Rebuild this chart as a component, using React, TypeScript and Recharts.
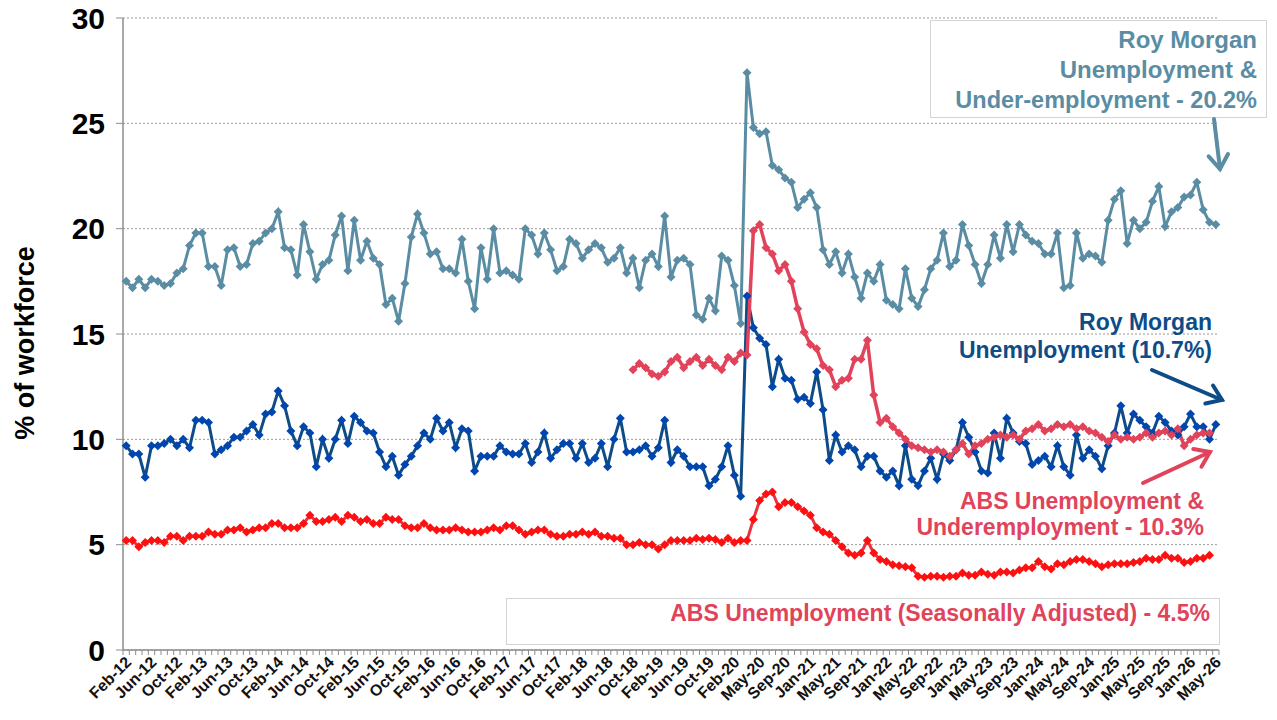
import React from 'react';
import { LineChart, Line, XAxis, YAxis, CartesianGrid } from 'recharts';

const MONTHS = ['Jan', 'Feb', 'Mar', 'Apr', 'May', 'Jun', 'Jul', 'Aug', 'Sep', 'Oct', 'Nov', 'Dec'];
const fmt = (y: number, m: number) => `${MONTHS[m]}-${String(y % 100).padStart(2, '0')}`;

// Category labels: monthly Feb-12..Feb-20, three COVID-period surveys, then monthly May-20..May-26
const categories: string[] = [];
for (let i = 0; i <= 96; i++) categories.push(fmt(2012 + Math.floor((1 + i) / 12), (1 + i) % 12));
categories.push('Mar-20', 'Mar-20 (28/29)', 'Apr-20');
for (let i = 0; i <= 72; i++) categories.push(fmt(2020 + Math.floor((4 + i) / 12), (4 + i) % 12));

const yTicks = [0, 5, 10, 15, 20, 25, 30];

const rmUnderUtil: number[] = [
  17.5, 17.2, 17.6, 17.2, 17.6, 17.5, 17.3, 17.4, 17.9, 18.1,
  19.2, 19.8, 19.8, 18.2, 18.2, 17.3, 19.0, 19.1, 18.2, 18.3,
  19.3, 19.4, 19.8, 20.0, 20.8, 19.1, 19.0, 17.8, 20.2, 18.9,
  17.6, 18.3, 18.5, 19.7, 20.6, 18.0, 20.4, 18.5, 19.4, 18.6,
  18.3, 16.4, 16.7, 15.6, 17.4, 19.6, 20.7, 19.8, 18.8, 18.9,
  18.1, 18.1, 17.9, 19.5, 17.5, 16.2, 19.1, 17.6, 20.0, 17.9,
  18.0, 17.8, 17.6, 20.0, 19.7, 18.8, 19.8, 19.0, 18.0, 18.2,
  19.5, 19.3, 18.6, 19.0, 19.3, 19.1, 18.4, 18.6, 19.1, 17.9,
  18.6, 17.2, 18.5, 18.8, 18.2, 20.6, 17.7, 18.5, 18.6, 18.3,
  15.9, 15.7, 16.7, 16.1, 18.7, 18.5, 17.3, 15.5, 27.4, 24.8,
  24.5, 24.6, 23.0, 22.8, 22.4, 22.2, 21.0, 21.4, 21.7, 21.0,
  19.0, 18.3, 18.9, 17.9, 18.8, 17.7, 16.7, 17.9, 17.5, 18.3,
  16.6, 16.4, 16.2, 18.1, 16.7, 16.3, 17.1, 18.1, 18.5, 19.8,
  18.2, 18.5, 20.2, 19.2, 18.3, 17.4, 18.3, 19.7, 18.6, 20.2,
  18.9, 20.2, 19.7, 19.4, 19.3, 18.8, 18.8, 19.8, 17.2, 17.3,
  19.8, 18.6, 18.8, 18.7, 18.4, 20.4, 21.4, 21.8, 19.3, 20.4,
  20.0, 20.3, 21.3, 22.0, 20.1, 20.8, 21.0, 21.5, 21.6, 22.2,
  20.9, 20.3, 20.2,
];

const rmUnemp: number[] = [
  9.7, 9.3, 9.3, 8.2, 9.7, 9.7, 9.8, 10.0, 9.7, 10.0,
  9.6, 10.9, 10.9, 10.8, 9.3, 9.5, 9.7, 10.1, 10.1, 10.4,
  10.7, 10.2, 11.2, 11.3, 12.3, 11.6, 10.4, 9.7, 10.6, 10.3,
  8.7, 10.0, 9.1, 10.0, 10.9, 9.8, 11.1, 10.8, 10.4, 10.3,
  9.4, 8.7, 9.2, 8.3, 8.8, 9.2, 9.7, 10.3, 10.0, 11.0,
  10.4, 10.8, 9.6, 10.5, 10.4, 8.5, 9.2, 9.2, 9.2, 9.7,
  9.4, 9.3, 9.3, 9.8, 8.9, 9.4, 10.3, 9.1, 9.5, 9.8,
  9.8, 9.1, 9.8, 8.9, 9.1, 9.8, 8.7, 10.0, 11.0, 9.4,
  9.4, 9.5, 9.7, 9.2, 9.6, 10.9, 8.9, 9.5, 9.2, 8.7,
  8.7, 8.7, 7.8, 8.1, 8.7, 9.7, 8.3, 7.3, 16.8, 15.3,
  14.8, 14.5, 12.5, 13.8, 12.9, 12.8, 11.9, 12.0, 11.7, 13.2,
  11.4, 9.0, 10.2, 9.4, 9.7, 9.5, 8.7, 9.2, 9.2, 8.5,
  8.2, 8.5, 7.8, 9.7, 8.1, 7.8, 8.5, 9.1, 8.1, 9.3,
  9.0, 9.5, 10.8, 10.1, 9.4, 8.5, 8.4, 10.3, 9.1, 11.0,
  10.3, 9.9, 9.8, 8.8, 9.0, 9.2, 8.7, 9.7, 8.7, 8.3,
  10.2, 9.1, 9.5, 9.2, 8.6, 9.7, 10.3, 11.6, 10.3, 11.2,
  10.9, 10.6, 10.3, 11.1, 10.8, 10.4, 10.2, 10.6, 11.2, 10.6,
  10.6, 10.0, 10.7,
];

// ABS unemployment & underemployment: from Oct-18 (index 80) to Apr-26 (index 171)
const absUnderUtilStart = 80;
const absUnderUtil: number[] = [
  13.3, 13.6, 13.4, 13.1, 13.0, 13.2, 13.7, 13.9, 13.4, 13.7,
  13.9, 13.5, 13.8, 13.5, 13.3, 13.9, 13.7, 14.1, 14.0, 19.9,
  20.2, 19.1, 18.8, 18.0, 18.3, 17.5, 16.2, 15.1, 14.5, 14.3,
  13.5, 13.3, 12.5, 12.8, 12.9, 13.8, 13.8, 14.7, 12.1, 10.8,
  11.0, 10.6, 10.3, 10.0, 9.7, 9.6, 9.5, 9.4, 9.5, 9.4,
  9.2, 9.5, 9.8, 9.3, 9.7, 9.8, 10.0, 10.1, 10.2, 10.1,
  10.2, 10.0, 10.4, 10.5, 10.7, 10.4, 10.5, 10.7, 10.6, 10.7,
  10.5, 10.6, 10.4, 10.3, 10.1, 9.9, 10.2, 10.0, 10.1, 10.0,
  10.1, 10.3, 10.1, 10.3, 10.4, 10.2, 10.5, 9.7, 10.0, 10.2,
  10.3, 10.3,
];

// ABS unemployment (seasonally adjusted): Feb-12 (index 0) to Apr-26 (index 171)
const absUnemp: number[] = [
  5.2, 5.2, 4.9, 5.1, 5.2, 5.2, 5.1, 5.4, 5.4, 5.2,
  5.4, 5.4, 5.4, 5.6, 5.5, 5.5, 5.7, 5.7, 5.8, 5.6,
  5.7, 5.8, 5.8, 6.0, 6.0, 5.8, 5.8, 5.8, 6.0, 6.4,
  6.1, 6.1, 6.2, 6.3, 6.1, 6.4, 6.3, 6.1, 6.2, 6.0,
  6.0, 6.3, 6.2, 6.2, 5.9, 5.8, 5.8, 6.0, 5.8, 5.7,
  5.7, 5.7, 5.8, 5.7, 5.6, 5.6, 5.6, 5.7, 5.8, 5.7,
  5.9, 5.9, 5.7, 5.5, 5.6, 5.7, 5.7, 5.5, 5.4, 5.4,
  5.5, 5.5, 5.6, 5.5, 5.6, 5.4, 5.4, 5.3, 5.3, 5.0,
  5.0, 5.1, 5.0, 5.0, 4.8, 5.0, 5.2, 5.2, 5.2, 5.2,
  5.3, 5.25, 5.3, 5.25, 5.1, 5.3, 5.1, 5.2, 5.2, 6.2,
  7.1, 7.4, 7.5, 6.8, 7.0, 7.0, 6.8, 6.6, 6.4, 5.8,
  5.6, 5.5, 5.2, 4.9, 4.6, 4.5, 4.6, 5.2, 4.6, 4.3,
  4.2, 4.05, 4.0, 3.95, 3.9, 3.5, 3.45, 3.5, 3.5, 3.45,
  3.5, 3.5, 3.65, 3.55, 3.55, 3.7, 3.6, 3.55, 3.7, 3.7,
  3.65, 3.8, 3.9, 3.9, 4.2, 3.95, 3.85, 4.1, 4.05, 4.2,
  4.3, 4.3, 4.2, 4.1, 3.95, 4.05, 4.1, 4.1, 4.1, 4.15,
  4.2, 4.35, 4.3, 4.3, 4.5, 4.35, 4.35, 4.15, 4.2, 4.35,
  4.35, 4.5,
];

const data = categories.map((label, i) => ({
  label,
  rmUnderUtil: rmUnderUtil[i] ?? null,
  rmUnemp: rmUnemp[i] ?? null,
  absUnderUtil: i >= absUnderUtilStart ? absUnderUtil[i - absUnderUtilStart] ?? null : null,
  absUnemp: absUnemp[i] ?? null,
}));

const FONT = '"Liberation Sans", Arial, Helvetica, sans-serif';
const C_LIGHT = '#5A8DA3';
const C_DARK = '#0E4C88';
const C_DARK_MK = '#0046AE';
const C_PINK = '#E0435A';
const C_RED_LINE = '#E8323F';
const C_RED_MK = '#FF1010';

const W = 1277;
const H = 720;
const PLOT_L = 123;
const PLOT_R = 1219;
const HALF = (PLOT_R - PLOT_L) / categories.length / 2;

const diamond = (fill: string, r: number) => (props: any) => {
  const { cx, cy, index } = props;
  if (cx == null || cy == null || isNaN(cx) || isNaN(cy)) return <g key={`d${index}`} />;
  return (
    <path
      key={`d${index}`}
      d={`M${cx},${cy - r}L${cx + r},${cy}L${cx},${cy + r}L${cx - r},${cy}Z`}
      fill={fill}
    />
  );
};

const CatTick = (props: any) => {
  const { x, y, payload } = props;
  const idx = payload.index;
  const last = idx === categories.length - 1;
  const ax = x - 2;
  const ay = y + 5;
  return (
    <g>
      <line x1={x - HALF} y1={y} x2={x - HALF} y2={y + 5} stroke="#8c8c8c" strokeWidth={1} />
      {last && <line x1={x + HALF} y1={y} x2={x + HALF} y2={y + 5} stroke="#8c8c8c" strokeWidth={1} />}
      {idx % 4 === 0 && (
        <text
          x={ax}
          y={ay}
          dy="0.72em"
          textAnchor="end"
          transform={`rotate(-45, ${ax}, ${ay})`}
          fontFamily={FONT}
          fontWeight="bold"
          fontSize={16}
          fill="#111"
        >
          {payload.value}
        </text>
      )}
    </g>
  );
};

const Arrow = ({ x1, y1, x2, y2, color }: any) => {
  const ang = Math.atan2(y2 - y1, x2 - x1);
  const L = 17;
  const a = (35 * Math.PI) / 180;
  const w1x = x2 - L * Math.cos(ang - a);
  const w1y = y2 - L * Math.sin(ang - a);
  const w2x = x2 - L * Math.cos(ang + a);
  const w2y = y2 - L * Math.sin(ang + a);
  return (
    <g stroke={color} strokeWidth={4} strokeLinecap="round" fill="none">
      <line x1={x1} y1={y1} x2={x2} y2={y2} />
      <polyline points={`${w1x},${w1y} ${x2},${y2} ${w2x},${w2y}`} strokeLinejoin="miter" />
    </g>
  );
};

const txt = (x: number, y: number, s: string, color: string, size: number) => (
  <text x={x} y={y} textAnchor="end" fontFamily={FONT} fontWeight="bold" fontSize={size} fill={color}>
    {s}
  </text>
);

export default function App() {
  return (
    <div style={{ position: 'absolute', left: 0, top: 0, width: W, height: H, background: '#fff' }}>
      <LineChart width={W} height={H} data={data} margin={{ top: 18, right: W - PLOT_R, left: 0, bottom: 0 }}>
        <CartesianGrid vertical={false} stroke="#9a9a9a" strokeDasharray="2 2" />
        <XAxis
          dataKey="label"
          interval={0}
          height={70}
          tick={<CatTick />}
          tickLine={false}
          tickSize={0}
          tickMargin={0}
          axisLine={{ stroke: '#8c8c8c', strokeWidth: 1.5 }}
          padding={{ left: HALF, right: HALF }}
        />
        <YAxis
          type="number"
          domain={[0, 30]}
          ticks={yTicks}
          width={PLOT_L}
          tickSize={7}
          tickMargin={11}
          axisLine={{ stroke: '#8c8c8c', strokeWidth: 1.5 }}
          tickLine={{ stroke: '#8c8c8c' }}
          tick={{ fontFamily: FONT, fontWeight: 'bold', fontSize: 30, fill: '#000' }}
        />
        <Line
          dataKey="rmUnderUtil"
          stroke={C_LIGHT}
          strokeWidth={3}
          dot={diamond(C_LIGHT, 4.5)}
          isAnimationActive={false}
        />
        <Line
          dataKey="absUnemp"
          stroke={C_RED_LINE}
          strokeWidth={3}
          dot={diamond(C_RED_MK, 4.5)}
          isAnimationActive={false}
        />
        <Line
          dataKey="rmUnemp"
          stroke={C_DARK}
          strokeWidth={3}
          dot={diamond(C_DARK_MK, 4.5)}
          isAnimationActive={false}
        />
        <Line
          dataKey="absUnderUtil"
          stroke={C_PINK}
          strokeWidth={3.5}
          dot={diamond(C_PINK, 4.5)}
          isAnimationActive={false}
        />
      </LineChart>
      <svg
        width={W}
        height={H}
        style={{ position: 'absolute', left: 0, top: 0, pointerEvents: 'none' }}
      >
        <text
          x={34}
          y={343}
          textAnchor="middle"
          transform="rotate(-90, 34, 343)"
          fontFamily={FONT}
          fontWeight="bold"
          fontSize={27}
          fill="#000"
        >
          % of workforce
        </text>

        <rect x={930.5} y={20.5} width={336} height={97} fill="#fff" stroke="#d4d4d4" />
        {txt(1257, 48, 'Roy Morgan', C_LIGHT, 24)}
        {txt(1257, 78, 'Unemployment &', C_LIGHT, 24)}
        {txt(1257, 108, 'Under-employment - 20.2%', C_LIGHT, 23.5)}
        <Arrow x1={1214} y1={119} x2={1220} y2={169} color={C_LIGHT} />

        {txt(1212, 330, 'Roy Morgan', C_DARK, 23)}
        {txt(1212, 358, 'Unemployment (10.7%)', C_DARK, 23)}
        <Arrow x1={1152} y1={370} x2={1222} y2={400} color={C_DARK} />

        {txt(1204, 509, 'ABS Unemployment &', C_PINK, 23)}
        {txt(1204, 535, 'Underemployment - 10.3%', C_PINK, 23)}
        <Arrow x1={1143} y1={483} x2={1210} y2={452} color={C_PINK} />

        <rect x={506.5} y={598.5} width={713} height={46} fill="#fff" stroke="#d4d4d4" />
        {txt(1210, 621, 'ABS Unemployment (Seasonally Adjusted) - 4.5%', C_PINK, 23)}
      </svg>
    </div>
  );
}
